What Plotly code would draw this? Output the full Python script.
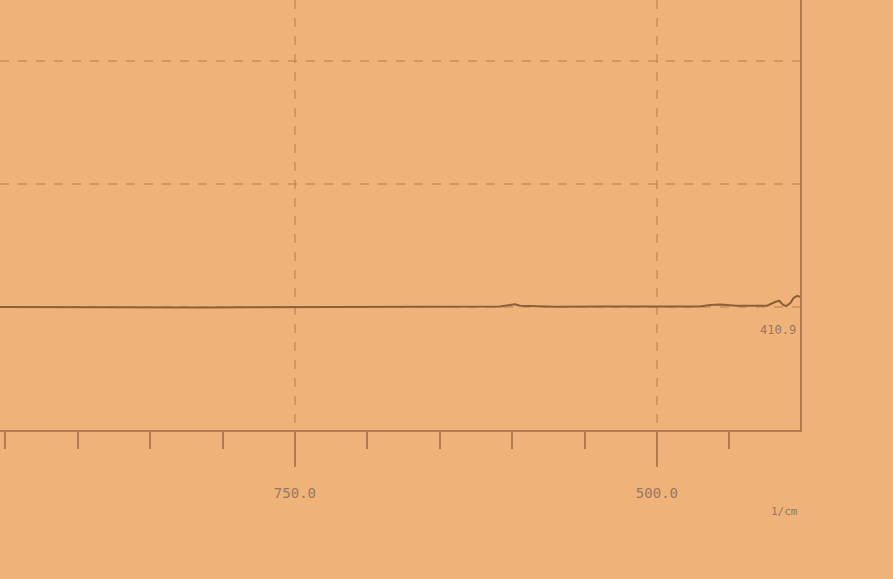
import plotly.graph_objects as go

# Spectrum trace (wavenumber in 1/cm, arbitrary ordinate)
wavenumber = [953.7, 920.0, 884.7, 850.0, 815.6, 780.0, 746.5, 710.0, 677.5, 640.0,
              608.4, 601.5, 598.0, 594.6, 570.0, 539.4, 505.0, 470.3, 463.4, 456.5,
              445.0, 434.0, 424.0, 418.0, 415.5, 413.0, 410.9, 408.0, 405.5, 403.0, 401.2]
signal = [25.05, 25.0, 25.05, 24.95, 24.95, 25.0, 25.05, 25.1, 25.15, 25.1,
          25.15, 25.45, 25.6, 25.3, 25.1, 25.15, 25.1, 25.15, 25.45, 25.55,
          25.3, 25.35, 25.3, 26.1, 26.3, 25.5, 25.2, 25.8, 26.9, 27.3, 27.1]

major_ticks = [750.0, 500.0]
major_labels = ["750.0", "500.0"]
peak_label = "410.9"
peak_x = 410.9
unit_label = "1/cm"

bg = "rgb(239,178,120)"
grid_col = "rgba(175,120,75,0.45)"
line_col = "rgb(140,95,58)"
axis_col = "rgb(178,124,80)"
text_col = "rgb(150,120,100)"

fig = go.Figure()
fig.add_trace(go.Scatter(x=wavenumber, y=signal, mode="lines",
                         line=dict(color=line_col, width=2),
                         showlegend=False, hoverinfo="skip"))

fig.update_layout(
    width=893, height=579,
    margin=dict(l=0, r=93, t=0, b=149),
    paper_bgcolor=bg, plot_bgcolor=bg,
    xaxis=dict(
        range=[953.7, 401.2],
        tickvals=major_ticks, ticktext=major_labels,
        ticks="outside", ticklen=35, tickwidth=2, tickcolor=axis_col,
        ticklabelstandoff=14,
        tickfont=dict(family="DejaVu Sans Mono", size=14, color=text_col),
        showgrid=True, gridcolor=grid_col, griddash="dash", gridwidth=1.5,
        showline=True, linecolor=axis_col, linewidth=1.5,
        zeroline=False,
        minor=dict(dtick=50, tick0=0, ticks="outside", ticklen=17,
                   tickwidth=1.5, tickcolor=axis_col, showgrid=False),
    ),
    yaxis=dict(
        range=[0, 87.5], side="right",
        tickvals=[25, 50, 75], showticklabels=False, ticks="",
        showgrid=True, gridcolor=grid_col, griddash="dash", gridwidth=1.5,
        showline=True, linecolor=axis_col, linewidth=1.8,
        zeroline=False,
    ),
)

fig.add_annotation(x=peak_x, y=20.4, text=peak_label, showarrow=False,
                   xanchor="right", xshift=12,
                   font=dict(family="DejaVu Sans Mono", size=12, color=text_col))
fig.add_annotation(x=1.0, xref="paper", y=-0.19, yref="paper", text=unit_label,
                   showarrow=False, xanchor="right", yanchor="middle",
                   font=dict(family="DejaVu Sans Mono", size=11, color=text_col))

fig.write_html("out.html")
